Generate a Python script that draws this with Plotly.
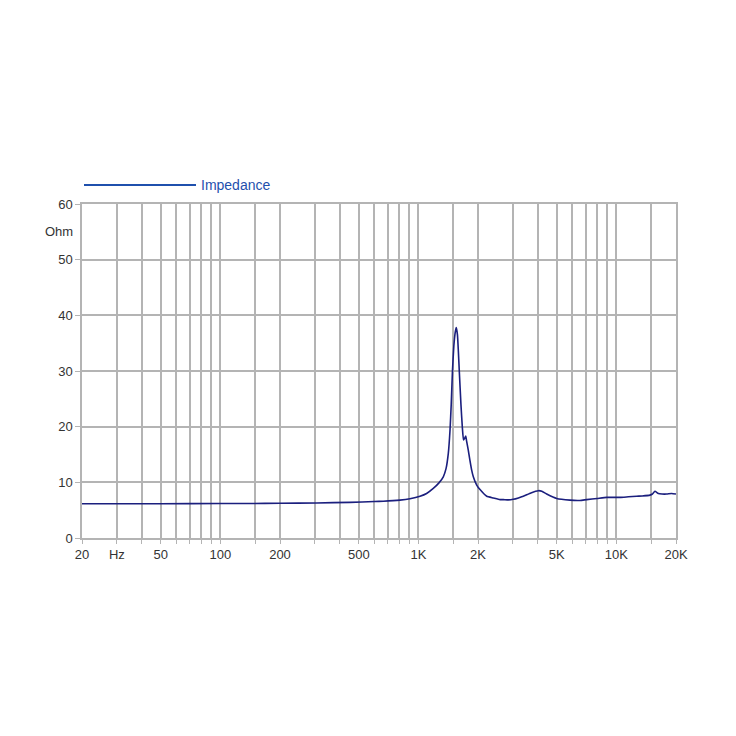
import plotly.graph_objects as go

# Impedance curve (Hz, Ohm)
freq_hz = [20, 30, 50, 100, 141, 200, 306, 451, 600, 665, 807, 907, 1019, 1100, 1189, 1270, 1336,
           1380, 1416, 1445, 1465, 1486, 1510, 1535, 1554, 1575, 1592, 1609, 1640, 1666, 1690,
           1712, 1734, 1750, 1786, 1820, 1858, 1894, 1970, 2047, 2214, 2388, 2584, 2686, 2850,
           3015, 3200, 3387, 3700, 4032, 4200, 4446, 4993, 5830, 6548, 7080, 8000, 8934,
           10427, 11500, 12654, 13500, 14780, 15200, 15660, 16280, 17000, 17960, 19020, 20000]
impedance_ohm = [6.15, 6.15, 6.15, 6.2, 6.2, 6.25, 6.3, 6.4, 6.55, 6.6, 6.8, 7.05, 7.5, 8.0, 8.9, 9.9, 11.0,
                 12.5, 15.2, 19.5, 24.0, 30.0, 34.5, 37.0, 37.8, 36.5, 33.5, 30.0, 24.0, 20.0, 17.6,
                 17.9, 18.3, 17.5, 15.8, 14.0, 12.2, 11.0, 9.5, 8.7, 7.5, 7.2, 6.9, 6.9, 6.85,
                 6.95, 7.2, 7.5, 8.1, 8.5, 8.4, 7.9, 7.1, 6.8, 6.75, 6.9, 7.1, 7.3,
                 7.3, 7.4, 7.5, 7.55, 7.7, 7.9, 8.4, 8.0, 7.9, 7.9, 8.0, 7.9]

x_tick_vals = [20, 30, 40, 50, 60, 70, 80, 90, 100, 150, 200, 300, 400, 500, 600, 700, 800, 900,
               1000, 1500, 2000, 3000, 4000, 5000, 6000, 7000, 8000, 9000, 10000, 15000, 20000]
x_tick_text = ["20", "Hz", "", "50", "", "", "", "", "100", "", "200", "", "", "500", "", "", "", "",
               "1K", "", "2K", "", "", "5K", "", "", "", "", "10K", "", "20K"]
y_tick_vals = [0, 10, 20, 30, 40, 50, 60]
y_tick_text = ["0", "10", "20", "30", "40", "50", "60"]

series_name = "Impedance"
y_unit = "Ohm"

grid_color = "#b4b4b4"
curve_color = "#1b1f7e"
legend_color = "#1f50ad"
font_family = "Liberation Sans, Arial, sans-serif"

fig = go.Figure()
fig.add_trace(go.Scatter(
    x=freq_hz, y=impedance_ohm, mode="lines", name=series_name,
    line=dict(color=curve_color, width=1.6, shape="spline", smoothing=0.4),
    showlegend=False,
))

fig.update_layout(
    width=736, height=736,
    margin=dict(l=82, r=60, t=204, b=198),
    paper_bgcolor="white", plot_bgcolor="white",
    font=dict(family=font_family, size=13, color="#333333"),
    xaxis=dict(
        type="log", range=[1.30103, 4.30103],
        tickmode="array", tickvals=x_tick_vals, ticktext=x_tick_text,
        showgrid=True, gridcolor=grid_color, gridwidth=1.5,
        showline=True, linecolor=grid_color, linewidth=1.5, mirror=True,
        ticks="outside", ticklen=4, tickcolor=grid_color, tickwidth=1,
        zeroline=False, tickfont=dict(size=13, color="#333333"),
    ),
    yaxis=dict(
        range=[0, 60],
        tickmode="array", tickvals=y_tick_vals, ticktext=y_tick_text,
        showgrid=True, gridcolor=grid_color, gridwidth=1.5,
        showline=True, linecolor=grid_color, linewidth=1.5, mirror=True,
        ticks="outside", ticklen=5, tickcolor=grid_color, tickwidth=1,
        zeroline=False, tickfont=dict(size=13, color="#333333"),
    ),
)

# "Ohm" unit label on the y-axis
fig.add_annotation(x=0, xref="paper", y=55, yref="y", text=y_unit, showarrow=False,
                   xanchor="right", xshift=-7, font=dict(size=13, color="#333333"))

# Legend: long line sample + label
fig.add_shape(type="line", xref="paper", yref="paper",
              x0=2 / 594, x1=114 / 594, y0=1 + 19 / 334, y1=1 + 19 / 334,
              line=dict(color=legend_color, width=2))
fig.add_annotation(x=117 / 594, xref="paper", y=1 + 19 / 334, yref="paper", text=series_name,
                   showarrow=False, xanchor="left", yanchor="middle",
                   font=dict(size=14, color=legend_color))

fig.write_html("out.html")
